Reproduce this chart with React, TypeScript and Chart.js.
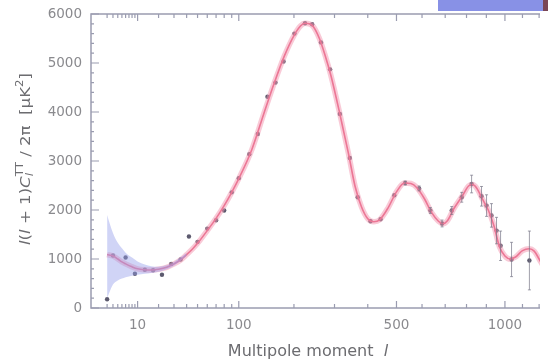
import React, { useEffect, useRef } from 'react';
import { Chart, registerables } from 'chart.js';
Chart.register(...registerables);

// ---- data (multipole l, D_l in μK²) ----
const modelL = [2, 3, 4, 5, 6, 8, 10, 13, 16, 20, 25, 30, 35, 40, 45, 50, 60, 70, 80, 90, 100, 120, 140, 160, 180, 200, 215, 225, 235, 245, 260, 275, 290, 315, 340, 360, 380, 400, 420, 440, 470, 500, 530, 555, 580, 610, 640, 670, 690, 710, 740, 780, 810, 830, 850, 880, 910, 940, 970, 1000, 1030, 1060, 1100, 1140, 1170, 1200, 1230, 1260, 1300];
const modelD = [1090, 1060, 1000, 940, 900, 840, 800, 780, 775, 790, 830, 900, 980, 1090, 1200, 1320, 1580, 1830, 2090, 2360, 2640, 3230, 3950, 4600, 5150, 5560, 5760, 5810, 5800, 5740, 5500, 5150, 4750, 3960, 3150, 2480, 2060, 1820, 1760, 1800, 2050, 2370, 2550, 2540, 2450, 2230, 1950, 1770, 1720, 1780, 2030, 2290, 2490, 2520, 2450, 2220, 2000, 1680, 1250, 1060, 1000, 1040, 1170, 1210, 1160, 1000, 830, 700, 600];

const bandL = [2, 3, 4, 5, 6, 8, 10, 13, 16, 20, 25, 30, 40];
const bandLow = [200, 480, 560, 600, 630, 660, 680, 700, 715, 740, 790, 860, 1060];
const bandHigh = [1900, 1530, 1330, 1220, 1130, 1030, 950, 890, 850, 840, 870, 940, 1120];

const dataL = [2, 3, 6, 9, 13, 17, 22, 28, 35, 42, 50, 60, 70, 80, 90, 100, 116, 130, 147, 162, 178, 201, 225, 242, 264, 288, 315, 344, 368, 409, 443, 492, 533, 588, 635, 686, 730, 777, 825, 875, 901, 927, 954, 976, 1037, 1141];
const dataD = [180, 1070, 1030, 700, 780, 770, 680, 900, 990, 1460, 1350, 1620, 1790, 1990, 2360, 2650, 3140, 3550, 4310, 4600, 5030, 5600, 5810, 5790, 5420, 4870, 3960, 3060, 2260, 1770, 1810, 2300, 2550, 2440, 1990, 1725, 1990, 2260, 2530, 2280, 2090, 1890, 1580, 1270, 990, 970];
const dataErr = [0, 0, 0, 0, 0, 0, 0, 0, 0, 0, 0, 0, 0, 0, 0, 0, 0, 0, 0, 0, 0, 0, 0, 0, 0, 0, 0, 0, 0, 0, 0, 0, 40, 50, 60, 70, 80, 100, 180, 200, 220, 240, 270, 300, 350, 600];

const xMajorTicks = [10, 100, 500, 1000];
const xMinorTicks = [2, 3, 4, 5, 6, 7, 8, 9, 20, 30, 40, 50, 60, 70, 80, 90, 200, 300, 400, 600, 700, 800, 900, 1100, 1200];
const yMajorTicks = [0, 1000, 2000, 3000, 4000, 5000, 6000];
const yMinorStep = 200;

const xTitle = 'Multipole moment';
const xTitleVar = 'l';

// x axis: l mapped with a power law l^0.42 (as in the figure)
const P = 0.42;
const T = (l: number) => Math.pow(l, P);

const FONT = '"DejaVu Sans", "Liberation Sans", sans-serif';
const AXIS = '#9a9cb0';

const decor = {
  id: 'decor',
  afterDatasetsDraw(chart: any) {
    const { ctx, scales: { x, y } } = chart;
    ctx.save();
    ctx.strokeStyle = 'rgba(120,118,135,0.7)';
    ctx.lineWidth = 1;
    dataL.forEach((l, i) => {
      const e = dataErr[i];
      if (!e) return;
      const px = x.getPixelForValue(T(l));
      const y1 = y.getPixelForValue(dataD[i] - e);
      const y2 = y.getPixelForValue(dataD[i] + e);
      ctx.beginPath();
      ctx.moveTo(px, y1); ctx.lineTo(px, y2);
      ctx.moveTo(px - 1.5, y1); ctx.lineTo(px + 1.5, y1);
      ctx.moveTo(px - 1.5, y2); ctx.lineTo(px + 1.5, y2);
      ctx.stroke();
    });
    ctx.restore();
  },
  afterDraw(chart: any) {
    const { ctx, chartArea: a, scales: { x, y } } = chart;
    ctx.save();
    ctx.strokeStyle = AXIS;
    ctx.lineWidth = 1.5;
    ctx.strokeRect(a.left, a.top, a.right - a.left, a.bottom - a.top);
    ctx.lineWidth = 1.2;
    ctx.beginPath();
    const xt = (l: number, len: number) => {
      const px = x.getPixelForValue(T(l));
      ctx.moveTo(px, a.bottom); ctx.lineTo(px, a.bottom - len);
      ctx.moveTo(px, a.top); ctx.lineTo(px, a.top + len);
    };
    xMajorTicks.forEach((l) => xt(l, 7));
    xMinorTicks.forEach((l) => xt(l, 4));
    for (let v = 0; v <= 6000; v += yMinorStep) {
      const py = y.getPixelForValue(v);
      const len = yMajorTicks.includes(v) ? 8 : 3;
      ctx.moveTo(a.left, py); ctx.lineTo(a.left + len, py);
    }
    ctx.stroke();

    // x title
    ctx.fillStyle = '#6c6c70';
    ctx.textBaseline = 'middle';
    ctx.font = `16px ${FONT}`;
    const w1 = ctx.measureText(xTitle + '  ').width;
    ctx.font = `italic 16px ${FONT}`;
    const w2 = ctx.measureText(xTitleVar).width;
    let sx = 300 - (w1 + w2) / 2;
    ctx.font = `16px ${FONT}`;
    ctx.textAlign = 'left';
    ctx.fillText(xTitle, sx, 344);
    ctx.font = `italic 16px ${FONT}`;
    ctx.fillText(xTitleVar, sx + w1, 344);

    // y title (rotated)
    const fs = 14;
    type Seg = { t: string; it?: boolean; sup?: boolean; sub?: boolean; stackWithPrev?: boolean };
    const segs: Seg[] = [
      { t: 'l', it: true }, { t: '(' }, { t: 'l', it: true }, { t: ' + 1)' }, { t: 'C', it: true },
      { t: 'TT', sup: true }, { t: 'l', it: true, sub: true, stackWithPrev: true },
      { t: ' / 2π  [μK' }, { t: '2', sup: true }, { t: ']' },
    ];
    const fontOf = (s: Seg) => `${s.it ? 'italic ' : ''}${s.sup || s.sub ? Math.round(fs * 0.7) : fs}px ${FONT}`;
    let total = 0;
    let prevW = 0;
    const pos: number[] = [];
    segs.forEach((s) => {
      ctx.font = fontOf(s);
      const w = ctx.measureText(s.t).width;
      if (s.stackWithPrev) {
        pos.push(total - prevW);
        if (w > prevW) total += w - prevW;
      } else {
        pos.push(total);
        total += w;
      }
      prevW = w;
    });
    const target = 172;
    const k = target / total;
    ctx.translate(18, 151);
    ctx.rotate(-Math.PI / 2);
    ctx.scale(k, 1);
    ctx.textAlign = 'left';
    ctx.textBaseline = 'middle';
    segs.forEach((s, i) => {
      ctx.font = fontOf(s);
      const dy = s.sup ? -fs * 0.38 : s.sub ? fs * 0.3 : 0;
      ctx.fillText(s.t, -total / 2 + pos[i], dy);
    });
    ctx.restore();
  },
};

export default function App() {
  const ref = useRef<HTMLCanvasElement>(null);
  useEffect(() => {
    document.documentElement.style.overflow = 'hidden';
    const pts = (ls: number[], vs: number[]) => ls.map((l, i) => ({ x: T(l), y: vs[i] }));
    const chart = new Chart(ref.current!, {
      type: 'line',
      data: {
        datasets: [
          { data: pts(bandL, bandHigh), borderWidth: 0, pointRadius: 0, fill: '+1', backgroundColor: 'rgba(150,160,236,0.45)', cubicInterpolationMode: 'monotone' },
          { data: pts(bandL, bandLow), borderWidth: 0, pointRadius: 0, fill: false, cubicInterpolationMode: 'monotone' },
          { data: pts(modelL, modelD), borderColor: 'rgba(243,150,175,0.5)', borderWidth: 5.5, pointRadius: 0, fill: false, cubicInterpolationMode: 'monotone' },
          { data: pts(modelL, modelD), borderColor: '#e4577a', borderWidth: 1.6, pointRadius: 0, fill: false, cubicInterpolationMode: 'monotone' },
          { data: pts(dataL, dataD), showLine: false, pointRadius: 2.2, pointBackgroundColor: '#5c5a6e', pointBorderWidth: 0 },
        ] as any,
      },
      options: {
        animation: false,
        responsive: false,
        devicePixelRatio: 1,
        layout: { padding: { top: 6, left: 0, right: 0, bottom: 0 } },
        plugins: { legend: { display: false }, tooltip: { enabled: false } },
        scales: {
          x: {
            type: 'linear',
            min: 0.6555,
            max: 20.7,
            grid: { display: false, drawTicks: false },
            border: { display: false },
            afterBuildTicks: (s: any) => { s.ticks = xMajorTicks.map((l) => ({ value: T(l) })); },
            afterFit: (s: any) => { s.height = 55; s.paddingLeft = 0; s.paddingRight = 0; },
            ticks: {
              autoSkip: false,
              maxRotation: 0,
              padding: 9,
              color: '#8a8a8e',
              font: { family: FONT, size: 13.5 },
              callback: (_v: any, i: number) => String(xMajorTicks[i]),
            },
          },
          y: {
            min: 0,
            max: 6000,
            grid: { display: false, drawTicks: false },
            border: { display: false },
            afterBuildTicks: (s: any) => { s.ticks = yMajorTicks.map((v) => ({ value: v })); },
            afterFit: (s: any) => { s.width = 83; s.paddingTop = 0; s.paddingBottom = 0; },
            ticks: {
              autoSkip: false,
              padding: 9,
              color: '#8a8a8e',
              font: { family: FONT, size: 13.5 },
              callback: (v: any) => String(v),
            },
          },
        },
      } as any,
      plugins: [decor],
    });
    return () => chart.destroy();
  }, []);
  return (
    <div style={{ position: 'relative', width: 560, height: 355 }}>
      <canvas ref={ref} width={560} height={355} style={{ display: 'block' }} />
      <div style={{ position: 'fixed', left: 438, top: 0, width: 105, height: 11, background: '#8891e6' }} />
      <div style={{ position: 'fixed', left: 543, top: 0, width: 5, height: 11, background: '#7a4656' }} />
    </div>
  );
}
